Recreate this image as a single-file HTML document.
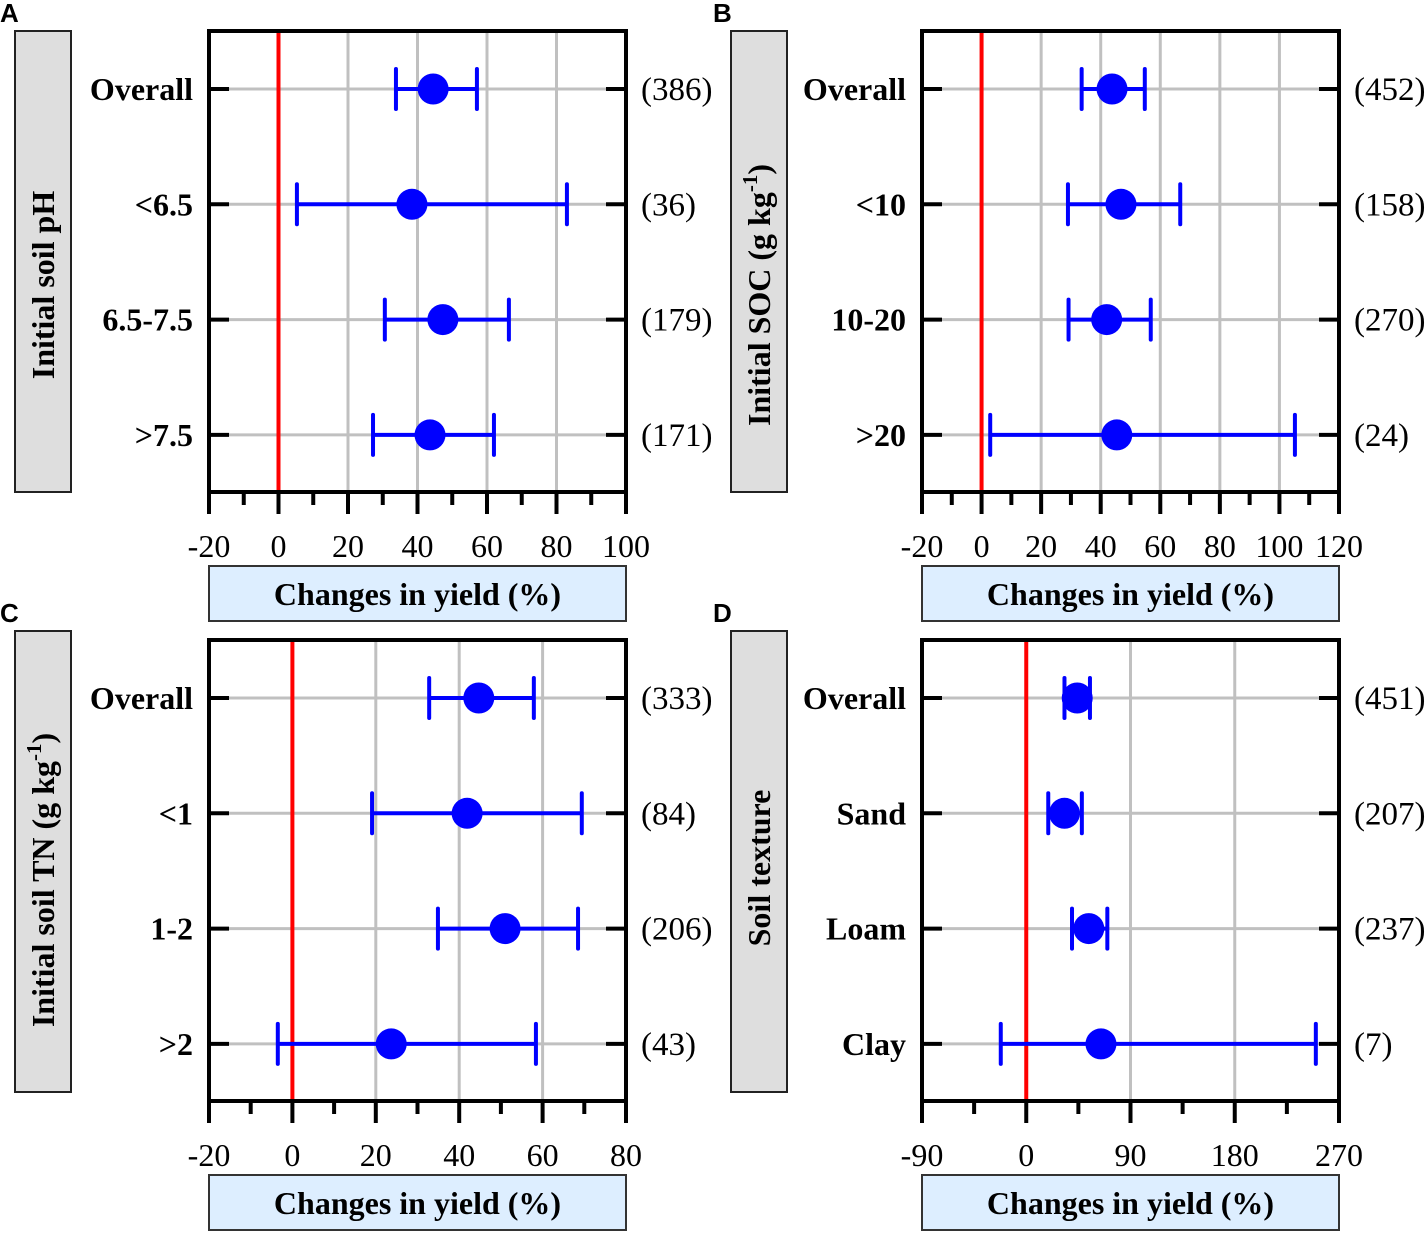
<!DOCTYPE html>
<html><head><meta charset="utf-8">
<style>
html,body{margin:0;padding:0;background:#fff;}
svg{display:block;}
text{font-family:"Liberation Serif",serif;}
</style></head>
<body>
<svg id="chart" width="1428" height="1236" viewBox="0 0 1428 1236" xmlns="http://www.w3.org/2000/svg"></svg>
<script>
// Panel A
const catsA = ["Overall","<6.5","6.5-7.5",">7.5"];
const meanA = [44.5,38.4,47.3,43.6];
const lowA = [33.8,5.3,30.6,27.2];
const highA = [57.1,83,66.3,62];
const countsA = ["(386)","(36)","(179)","(171)"];
const ticksA = [-20,0,20,40,60,80,100];
// Panel B
const catsB = ["Overall","<10","10-20",">20"];
const meanB = [43.8,46.8,42,45.4];
const lowB = [33.6,29,29.2,2.9];
const highB = [54.8,66.7,56.8,105.2];
const countsB = ["(452)","(158)","(270)","(24)"];
const ticksB = [-20,0,20,40,60,80,100,120];
// Panel C
const catsC = ["Overall","<1","1-2",">2"];
const meanC = [44.7,41.9,51,23.7];
const lowC = [32.8,19.1,34.9,-3.5];
const highC = [57.9,69.4,68.5,58.4];
const countsC = ["(333)","(84)","(206)","(43)"];
const ticksC = [-20,0,20,40,60,80];
// Panel D
const catsD = ["Overall","Sand","Loam","Clay"];
const meanD = [44,33,54,64.5];
const lowD = [33,19,39.5,-22];
const highD = [55,48,70,250];
const countsD = ["(451)","(207)","(237)","(7)"];
const ticksD = [-90,0,90,180,270];

const svg = document.getElementById('chart');
const NS = 'http://www.w3.org/2000/svg';
function mk(tag, attrs, parent){
  const e = document.createElementNS(NS, tag);
  for (const k in attrs) e.setAttribute(k, attrs[k]);
  (parent||svg).appendChild(e);
  return e;
}

function panel(letter, ox, oy, sideX, sideY, titleY, ylabelHTML, cats, mean, low, high, counts, ticks){
  const g = mk('g', {});
  
  
  const L = ox, R = ox + 417, T = oy, B = oy + 461;
  const xmin = ticks[0], xmax = ticks[ticks.length-1];
  const xs = v => L + (v - xmin) / (xmax - xmin) * (R - L);
  const rowY = i => T + 58 + i * 115.3;

  const pl = mk('text', {x: ox - 209, y: sideY - 9, 'font-size': 26, 'font-weight': 'bold', style: 'font-family:"Liberation Sans",sans-serif'}, g);
  pl.textContent = letter;
  
  

  const sb = mk('rect', {x: sideX, y: sideY, width: 56, height: 461, fill: '#dedede', stroke: '#222', 'stroke-width': 2}, g);
  
  
  const yt = mk('text', {x: 0, y: 0, 'font-size': 32, 'font-weight': 'bold', 'text-anchor': 'middle',
    transform: `translate(${sideX + 39},${titleY}) rotate(-90)`}, g);
  yt.innerHTML = ylabelHTML;
  
  

  ticks.forEach(t => {
    if (t === xmin || t === xmax || t === 0) return;
    const gl = mk('line', {x1: xs(t), x2: xs(t), y1: T, y2: B, stroke: '#c0c0c0', 'stroke-width': 3}, g);
    
    
  });
  cats.forEach((c, i) => {
    const gl = mk('line', {x1: L, x2: R, y1: rowY(i), y2: rowY(i), stroke: '#c0c0c0', 'stroke-width': 3}, g);
    
    
  });
  const z = mk('line', {x1: xs(0), x2: xs(0), y1: T, y2: B, stroke: '#ff0000', 'stroke-width': 4}, g);
  
  

  cats.forEach((c, i) => {
    const y = rowY(i);
    const t1 = mk('line', {x1: L, x2: L + 20, y1: y, y2: y, stroke: '#000', 'stroke-width': 4}, g);
    
    
    const t2 = mk('line', {x1: R - 20, x2: R, y1: y, y2: y, stroke: '#000', 'stroke-width': 4}, g);
    
    
    const lb = mk('text', {x: L - 16, y: y + 11, 'font-size': 32, 'font-weight': 'bold', 'text-anchor': 'end'}, g);
    lb.textContent = c;
    
    
    const cn = mk('text', {x: R + 15, y: y + 11, 'font-size': 33}, g);
    cn.textContent = counts[i];
    
    
  });

  cats.forEach((c, i) => {
    const y = rowY(i);
    const eg = mk('g', {}, g);
    
    
    mk('line', {x1: xs(low[i]), x2: xs(high[i]), y1: y, y2: y, stroke: '#0000ff', 'stroke-width': 4}, eg);
    mk('line', {x1: xs(low[i]), x2: xs(low[i]), y1: y - 20, y2: y + 20, stroke: '#0000ff', 'stroke-width': 4, 'stroke-linecap': 'round'}, eg);
    mk('line', {x1: xs(high[i]), x2: xs(high[i]), y1: y - 20, y2: y + 20, stroke: '#0000ff', 'stroke-width': 4, 'stroke-linecap': 'round'}, eg);
    const dot = mk('circle', {cx: xs(mean[i]), cy: y, r: 15.5, fill: '#0000ff'}, eg);
    
    
  });

  const fr = mk('rect', {x: L, y: T, width: R - L, height: B - T, fill: 'none', stroke: '#000', 'stroke-width': 4}, g);
  
  

  ticks.forEach((t, k) => {
    const x = xs(t);
    const mt = mk('line', {x1: x, x2: x, y1: B, y2: B + 22, stroke: '#000', 'stroke-width': 4}, g);
    
    
    const tl = mk('text', {x: x, y: B + 65, 'font-size': 32, 'text-anchor': 'middle'}, g);
    tl.textContent = t;
    
    
    if (k < ticks.length - 1) {
      const xm = xs((t + ticks[k+1]) / 2);
      const mn = mk('line', {x1: xm, x2: xm, y1: B, y2: B + 13, stroke: '#000', 'stroke-width': 4}, g);
      
      
    }
  });

  const xb = mk('rect', {x: L, y: B + 74, width: R - L, height: 55, fill: '#ddeeff', stroke: '#333', 'stroke-width': 2}, g);
  
  
  const xt = mk('text', {x: (L + R) / 2, y: B + 113, 'font-size': 32, 'font-weight': 'bold', 'text-anchor': 'middle'}, g);
  xt.textContent = 'Changes in yield (%)';
  
  
}

panel('A', 209, 31, 15, 31, 285, 'Initial soil pH', catsA, meanA, lowA, highA, countsA, ticksA);
panel('B', 922, 31, 731, 31, 295, 'Initial SOC (g kg<tspan dy="-13" font-size="21">-1</tspan><tspan dy="13">)</tspan>', catsB, meanB, lowB, highB, countsB, ticksB);
panel('C', 209, 640, 15, 631, 880, 'Initial soil TN (g kg<tspan dy="-13" font-size="21">-1</tspan><tspan dy="13">)</tspan>', catsC, meanC, lowC, highC, countsC, ticksC);
panel('D', 922, 640, 731, 631, 868, 'Soil texture', catsD, meanD, lowD, highD, countsD, ticksD);
</script>
</body></html>
